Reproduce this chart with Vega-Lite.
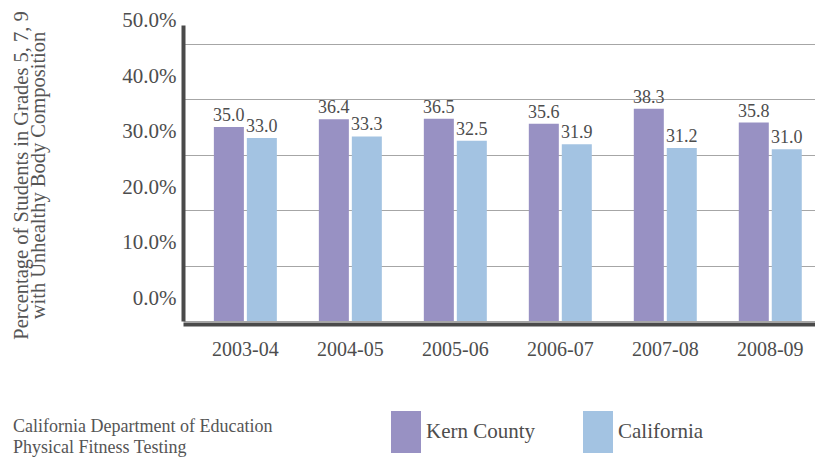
{
  "$schema": "https://vega.github.io/schema/vega-lite/v6.json",
  "width": 632,
  "height": 296,
  "autosize": {"type": "none"},
  "padding": {"left": 183, "top": 25, "right": 0, "bottom": 139},
  "background": "white",
  "config": {"view": {"stroke": null}, "font": "Liberation Serif"},
  "title": {
    "text": ["California Department of Education", "Physical Fitness Testing"],
    "orient": "bottom",
    "anchor": "start",
    "frame": "group",
    "dx": -170,
    "offset": -35,
    "fontSize": 18,
    "fontWeight": "normal",
    "color": "#555555",
    "lineHeight": 21,
    "font": "Liberation Serif",
    "baseline": "top"
  },
  "data": {
    "values": [
      {"year": "2003-04", "region": "Kern County", "value": 35.0},
      {"year": "2003-04", "region": "California", "value": 33.0},
      {"year": "2004-05", "region": "Kern County", "value": 36.4},
      {"year": "2004-05", "region": "California", "value": 33.3},
      {"year": "2005-06", "region": "Kern County", "value": 36.5},
      {"year": "2005-06", "region": "California", "value": 32.5},
      {"year": "2006-07", "region": "Kern County", "value": 35.6},
      {"year": "2006-07", "region": "California", "value": 31.9},
      {"year": "2007-08", "region": "Kern County", "value": 38.3},
      {"year": "2007-08", "region": "California", "value": 31.2},
      {"year": "2008-09", "region": "Kern County", "value": 35.8},
      {"year": "2008-09", "region": "California", "value": 31.0}
    ]
  },
  "encoding": {
    "x": {
      "field": "year",
      "type": "nominal",
      "scale": {"paddingInner": 0.4, "paddingOuter": 0.21, "align": 0.7},
      "axis": {
        "title": null,
        "labelAngle": 0,
        "labelFontSize": 20,
        "labelColor": "#4d4d4d",
        "labelPadding": 15,
        "ticks": false,
        "domainColor": "#4a4a4a",
        "domainWidth": 4,
        "offset": 3,
        "grid": false
      }
    },
    "xOffset": {
      "field": "region",
      "type": "nominal",
      "sort": ["Kern County", "California"],
      "scale": {"paddingInner": 0.09, "paddingOuter": 0}
    },
    "y": {
      "field": "value",
      "type": "quantitative",
      "scale": {"domain": [0, 53.4], "nice": false, "zero": true},
      "axis": {
        "title": ["Percentage of Students in Grades 5, 7, 9", "with Unhealthy Body Composition"],
        "titleFontSize": 20.5,
        "titleFontWeight": "normal",
        "titleColor": "#555555",
        "titleLineHeight": 17.5,
        "titleAngle": -90,
        "titleX": -162,
        "titleY": 150,
        "titleAlign": "center",
        "titleBaseline": "middle",
        "values": [0, 10, 20, 30, 40, 50],
        "labelExpr": "format(datum.value, '.1f') + '%'",
        "labelFontSize": 21,
        "labelColor": "#4d4d4d",
        "labelOffset": -23,
        "labelPadding": 7,
        "labelFlush": false,
        "labelOverlap": false,
        "ticks": false,
        "tickSize": 0,
        "domainColor": "#4a4a4a",
        "domainWidth": 4,
        "gridColor": "#a6a6a6",
        "gridWidth": 1.2
      }
    }
  },
  "layer": [
    {
      "mark": {"type": "bar"},
      "encoding": {
        "color": {
          "field": "region",
          "type": "nominal",
          "scale": {"domain": ["Kern County", "California"], "range": ["#9891c3", "#a3c3e2"]},
          "legend": {
            "title": null,
            "orient": "none",
            "legendX": 208,
            "legendY": 392,
            "direction": "horizontal",
            "symbolType": "M-1,-1.4H1V1.4H-1Z",
            "symbolSize": 900,
            "symbolStrokeWidth": 0,
            "labelFontSize": 21,
            "labelColor": "#4d4d4d",
            "labelOffset": 5,
            "columnPadding": 47,
            "padding": 0,
            "labelFont": "Liberation Serif"
          }
        }
      }
    },
    {
      "mark": {"type": "text", "baseline": "alphabetic", "dy": -6, "fontSize": 18, "color": "#4d4d4d"},
      "encoding": {
        "text": {"field": "value", "type": "quantitative", "format": ".1f"}
      }
    }
  ]
}
